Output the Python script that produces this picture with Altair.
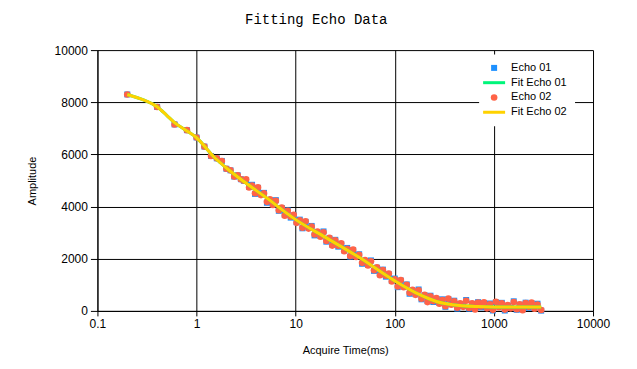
import altair as alt
import pandas as pd

# ---------------- data ----------------
series_names = ["Echo 01", "Fit Echo 01", "Echo 02", "Fit Echo 02"]
series_colors = ["#1E90FF", "#00F57A", "#FF6347", "#FFD200"]
# custom wide stroke for the fit entries in the legend
series_shapes = ["square", "M-2,0H2", "circle", "M-2,0H2"]

early_t = [0.2, 0.4, 0.6, 0.8, 1.0, 1.2, 1.4, 1.6, 1.8, 2.0, 2.2, 2.4, 2.6, 2.8, 3.0]
early_amp = [8300, 7820, 7150, 6930, 6650, 6300, 5940, 5850, 5750, 5450, 5390, 5150, 5200, 5050, 4990]

band_t = [3.16, 3.39, 3.63, 3.89, 4.17, 4.47, 4.79, 5.13, 5.50, 5.89,
          6.31, 6.76, 7.24, 7.76, 8.32, 8.91, 9.55, 10.2, 11.0, 11.7,
          12.6, 13.5, 14.5, 15.5, 16.6, 17.8, 19.1, 20.4, 21.9, 23.4,
          25.1, 26.9, 28.8, 30.9, 33.1, 35.5, 38.0, 40.7, 43.7, 46.8,
          50.1, 53.7, 57.5, 61.7, 66.1, 70.8, 75.9, 81.3, 87.1, 93.3,
          100, 107, 115, 123, 132, 141, 151, 162, 174, 186,
          200, 214, 229, 245, 263, 282, 302, 324, 347, 372,
          398, 427, 457, 490, 525, 562, 603, 646, 692, 741,
          794, 851, 912, 977, 1047, 1122, 1202, 1288, 1380, 1479,
          1585, 1698, 1820, 1950, 2089, 2239, 2399, 2570, 2754, 3000]

echo01_band = [5016, 4756, 4836, 4486, 4716, 4476, 4526, 4146, 4246, 4087,
               4247, 3837, 3947, 3687, 3857, 3577, 3657, 3402, 3500, 3167,
               3414, 3191, 3258, 2895, 3012, 2870, 3047, 2654, 2781, 2538,
               2725, 2463, 2560, 2317, 2414, 2081, 2328, 2105, 2172, 1807,
               1917, 1766, 1935, 1535, 1654, 1403, 1583, 1312, 1401, 1151,
               1240, 911, 1163, 944, 1016, 657, 778, 640, 821, 444,
               593, 373, 582, 341, 460, 302, 444, 156, 449, 271,
               391, 87, 264, 181, 418, 85, 271, 88, 335, 137,
               299, 122, 284, 16, 330, 175, 309, 14, 198, 123,
               368, 42, 237, 61, 316, 121, 285, 110, 275, 10]

echo02_band = [5046, 4731, 4806, 4511, 4736, 4441, 4506, 4181, 4276, 4062,
               4217, 3862, 3967, 3652, 3837, 3612, 3687, 3377, 3470, 3192,
               3434, 3156, 3238, 2930, 3042, 2845, 3017, 2679, 2801, 2503,
               2705, 2498, 2590, 2292, 2384, 2106, 2348, 2070, 2152, 1842,
               1947, 1741, 1905, 1560, 1674, 1368, 1563, 1347, 1431, 1126,
               1210, 936, 1183, 909, 996, 692, 808, 615, 791, 469,
               613, 338, 562, 376, 490, 277, 414, 181, 469, 236,
               371, 122, 294, 156, 388, 110, 291, 53, 315, 172,
               329, 97, 254, 41, 350, 140, 289, 49, 228, 98,
               338, 67, 257, 26, 296, 156, 315, 85, 245, 35]

fit_t = [0.2, 0.3, 0.4, 0.5, 0.6, 0.8, 1.0, 1.5, 2.0, 3.0, 5.0, 10, 20, 46,
         100, 178, 263, 384, 692, 1000, 3000]
fit_amp = [8300, 8070, 7830, 7500, 7220, 6900, 6640, 5900, 5480, 4960, 4352, 3500,
           2819, 2000, 1150, 620, 360, 235, 165, 150, 145]

x_ticks = [0.1, 1, 10, 100, 1000, 10000]
y_ticks = [0, 2000, 4000, 6000, 8000, 10000]

# ---------------- tables ----------------
pts = pd.DataFrame({
    "t": (early_t + band_t) * 2,
    "amp": early_amp + echo01_band + early_amp + echo02_band,
    "series": ["Echo 01"] * (len(early_t) + len(band_t)) + ["Echo 02"] * (len(early_t) + len(band_t)),
})
fits = pd.DataFrame({
    "t": fit_t * 2,
    "amp": fit_amp * 2,
    "series": ["Fit Echo 01"] * len(fit_t) + ["Fit Echo 02"] * len(fit_t),
})

FONT = "Liberation Sans"

x_enc = alt.X("t:Q",
              scale=alt.Scale(type="log", domain=[0.1, 10000]),
              axis=alt.Axis(values=x_ticks, format="~g", title="Acquire Time(ms)",
                            tickSize=5, labelPadding=3, labelFlush=False,
                            titlePadding=15))
y_enc = alt.Y("amp:Q",
              scale=alt.Scale(domain=[0, 10000], nice=False),
              axis=alt.Axis(values=y_ticks, format="d", title="Amplitude",
                            tickSize=7, labelPadding=3, titlePadding=17))

color_scale = alt.Scale(domain=series_names, range=series_colors)

points = alt.Chart(pts).mark_point(filled=True, opacity=1).encode(
    x=x_enc,
    y=y_enc,
    fill=alt.Fill("series:N", scale=color_scale, title=None),
    stroke=alt.Stroke("series:N", scale=color_scale, title=None),
    shape=alt.Shape("series:N", scale=alt.Scale(domain=series_names, range=series_shapes), title=None),
    size=alt.Size("series:N", scale=alt.Scale(type="ordinal", domain=series_names, range=[36, 121, 44, 121]), title=None),
    strokeWidth=alt.StrokeWidth("series:N", scale=alt.Scale(type="ordinal", domain=series_names, range=[0, 3, 0, 3]), title=None),
)

lines = alt.Chart(fits).mark_line(strokeWidth=3, interpolate="monotone").encode(
    x="t:Q",
    y="amp:Q",
    stroke=alt.Stroke("series:N", scale=color_scale, title=None),
)

chart = alt.layer(points, lines).properties(
    width=496,
    height=261,
    autosize=alt.AutoSizeParams(type="none"),
    padding={"left": 89.5, "top": 42, "right": 36, "bottom": 50},
    title=alt.Title("Fitting Echo Data", font="Liberation Mono", fontSize=14,
                    fontWeight="normal", color="black", anchor="middle",
                    dx=-29, offset=17),
).configure_view(
    stroke=None
).configure_axis(
    grid=True, gridColor="black", gridOpacity=1, gridWidth=1,
    domainColor="black", domainWidth=1, tickColor="black", tickWidth=1,
    labelFont=FONT, labelFontSize=12, labelColor="black",
    titleFont=FONT, titleFontSize=11, titleFontWeight="normal", titleColor="black",
).configure_legend(
    orient="none", legendX=382, legendY=4.3, fillColor="white", padding=8,
    labelFont=FONT, labelFontSize=11, labelColor="black", labelOffset=10,
    rowPadding=2.3,
)

chart.save("out.html", embed_options={"renderer": "svg", "actions": False})
